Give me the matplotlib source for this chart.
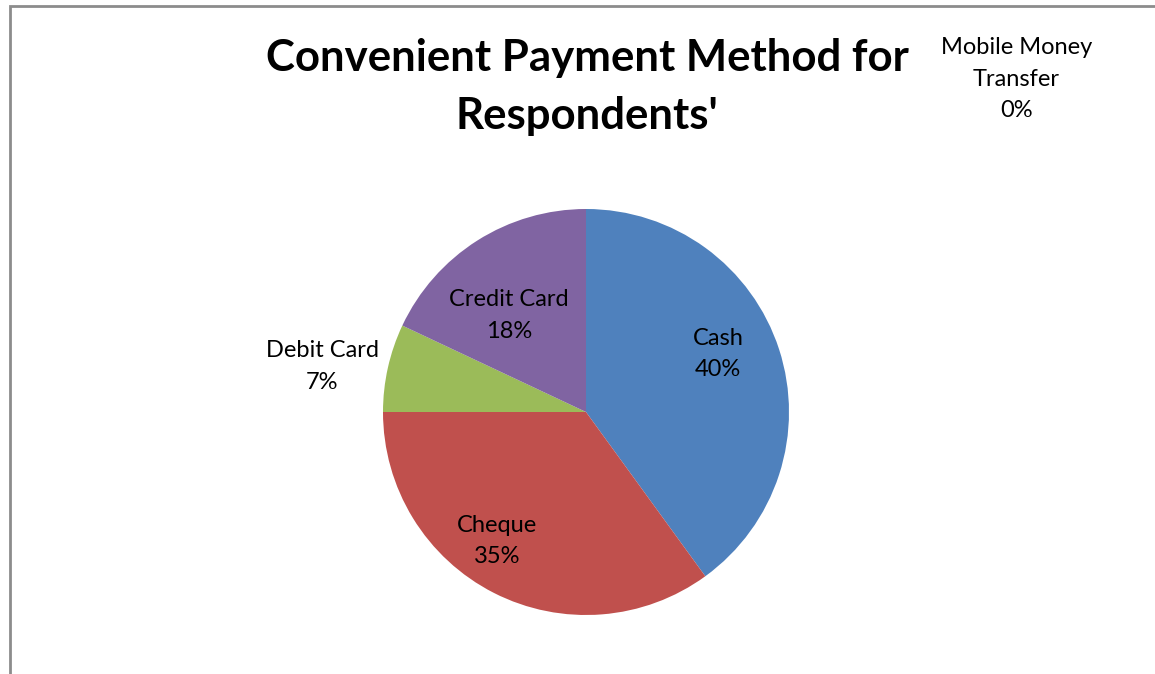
import matplotlib
matplotlib.use("Agg")
import matplotlib.pyplot as plt
from matplotlib.patches import Rectangle

# data
methods = ["Cash", "Cheque", "Debit Card", "Credit Card", "Mobile Money\nTransfer"]
shares = [40, 35, 7, 18, 0]
colors = ["#4F81BD", "#C0504D", "#9BBB59", "#8064A2", "#4BACC6"]

# label spots (data units, pie radius = 1)
label_xy = [(0.65, 0.285), (-0.44, -0.635), (-1.30, 0.225), (-0.38, 0.475), (2.12, 1.64)]

plt.rcParams['font.family'] = ['Lato', 'DejaVu Sans']

W, H = 1155, 674
fig = plt.figure(figsize=(W / 100, H / 100), dpi=100)

cx, cy, R = 586, 412, 203
ax = fig.add_axes([(cx - R) / W, (H - cy - R) / H, 2 * R / W, 2 * R / H])
ax.pie(shares, colors=colors, startangle=90, counterclock=False,
       wedgeprops=dict(linewidth=0), radius=1)
ax.set_xlim(-1, 1)
ax.set_ylim(-1, 1)
ax.axis("off")

total = sum(shares)
for name, val, (x, y) in zip(methods, shares, label_xy):
    ax.text(x, y, "%s\n%d%%" % (name, round(100 * val / total)),
            ha="center", va="center", fontsize=17, linespacing=1.62,
            color="black", clip_on=False)

fig.text(587 / W, 1 - 87 / H, "Convenient Payment Method for\nRespondents'",
         ha="center", va="center", fontsize=31.5, fontweight="bold",
         linespacing=1.55)

# chart border (only top and left show in the crop)
fig.patches.append(Rectangle((10 / W, -0.1), 1.2, 1 - 6 / H + 0.1,
                             transform=fig.transFigure, fill=False,
                             edgecolor="#8c8c8c", linewidth=2))

fig.savefig("out.png", dpi=100)
